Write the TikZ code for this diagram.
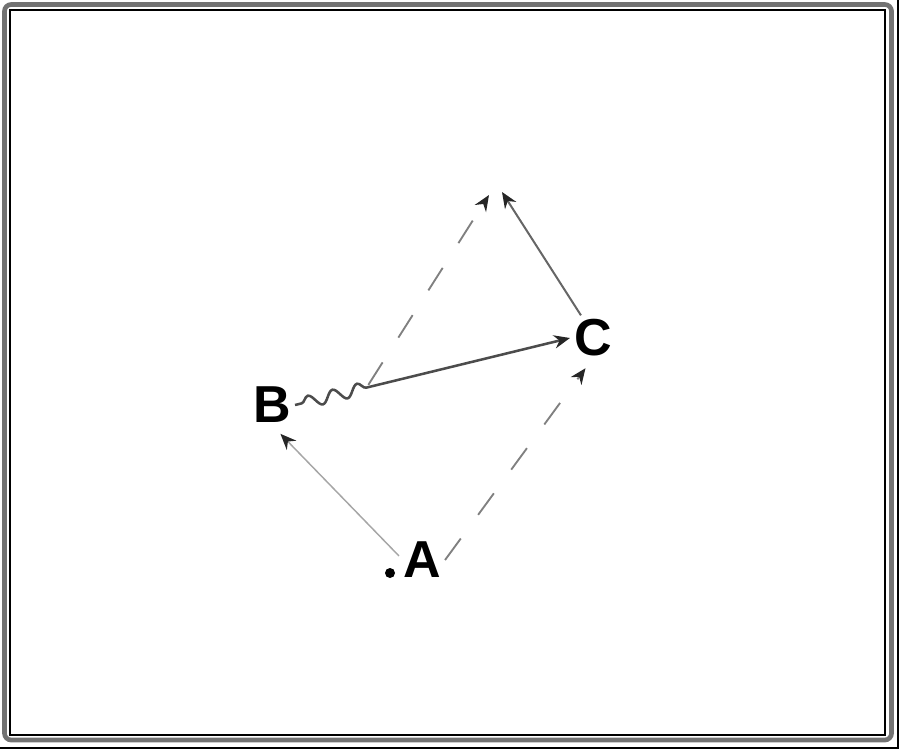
\documentclass[tikz,border=0pt]{standalone}
\usepackage{fontspec}
\setmainfont{Liberation Sans}
\usetikzlibrary{arrows.meta,decorations.pathmorphing,calc}
\begin{document}
\begin{tikzpicture}[x=0.75pt,y=-0.75pt,
  lbl/.style={font=\fontsize{39}{41}\selectfont\bfseries, inner sep=3pt},
  tipend/.style={-{Stealth[length=12pt,width=10pt,inset=4pt,black!85]}},
  lightline/.style={draw=black!35, line width=1.1pt},
  dashline/.style={draw=black!50, line width=1.4pt, dash pattern=on 20pt off 22pt},
  darkline/.style={draw=black!70, line width=1.9pt},
  midline/.style={draw=black!60, line width=1.5pt},
  dotnode/.style={circle, fill=black, inner sep=0pt, minimum size=7.5pt}
]
\useasboundingbox (0,0) rectangle (900,750);
% frame
\draw[black!55, line width=3.5pt, rounded corners=5pt] (4.5,4.5) rectangle (891.5,740);
\draw[black, line width=0.8pt] (10,10) rectangle (885,735);
\draw[black, line width=0.8pt] (898,0) -- (898,748) -- (0,748);
% nodes
\node[lbl] (A) at (422,560) {A};
\node[dotnode] (dot) at (390,573) {};
\node[lbl] (B) at (272,405) {B};
\node[lbl] (C) at (593,338) {C};
\coordinate (m) at ($(B)!0.3!(C)$);
\coordinate (apexL) at (489,195);
\coordinate (apexR) at (502,192);
% connectors
\draw[lightline, tipend, shorten >=7pt] (A.170) -- (B.-85);
\draw[dashline, tipend, shorten >=7pt] (A.east) -- (C.-95);
\draw[darkline, tipend, decorate,
  decoration={snake, amplitude=4.5pt, segment length=19pt, pre length=5pt, post length=156pt}]
  (B.east) -- (C.west);
\draw[dashline, tipend] (m) -- (apexL);
\draw[midline, tipend] (C.118) -- (apexR);
\end{tikzpicture}
\end{document}
